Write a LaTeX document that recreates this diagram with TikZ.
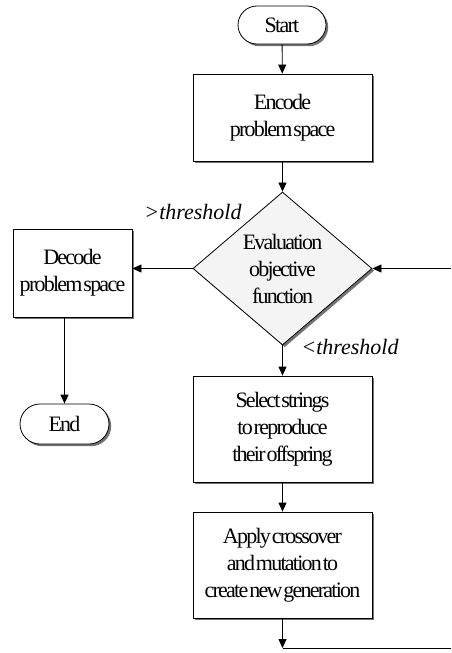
\documentclass[tikz,border=0pt]{standalone}
\usepackage{fontspec}
\setmainfont{Liberation Serif}[LetterSpace=-8,WordSpace=0.25]
\newfontfamily\lblfont{Liberation Serif}
\usetikzlibrary{shapes.geometric,shapes.misc,shadows,arrows.meta}
\definecolor{dfill}{HTML}{F4F4F4}
\begin{document}
\begin{tikzpicture}[x=1pt,y=-1pt,
  base/.style={draw=black,line width=0.8pt,fill=white,inner sep=0pt,align=center,
    font=\fontsize{22}{27}\selectfont,
    drop shadow={shadow xshift=2.2pt,shadow yshift=-2.2pt,fill=black!55,opacity=1}},
  procbox/.style={base,rectangle,minimum width=179pt},
  termbox/.style={base,rounded rectangle,minimum height=38pt},
  decbox/.style={base,diamond,fill=dfill,minimum width=179pt,minimum height=153pt},
  conn/.style={line width=0.8pt,-{Triangle[length=9pt,width=8pt]}},
  lbl/.style={font=\lblfont\itshape\fontsize{22}{24}\selectfont,inner sep=0pt}]
\useasboundingbox (0,0) rectangle (451,653);
\node[termbox,minimum width=88pt] (start) at (282,25) {Start};
\node[procbox,minimum height=87pt] (encode) at (282.5,117.5) {Encode\\problem space};
\node[decbox] (eval) at (282.5,268.5) {Evaluation\\objective\\function};
\node[procbox,minimum width=119pt,minimum height=88pt] (decode) at (72.5,273) {Decode\\problem space};
\node[termbox,minimum width=89pt,minimum height=40pt] (end) at (64.5,424) {End};
\node[procbox,minimum height=106pt] (select) at (282.5,429) {Select strings\\to reproduce\\their offspring};
\node[procbox,minimum height=106pt] (apply) at (282.5,565) {Apply crossover\\and mutation to\\create new generation};
\node[lbl] (gt) at (193,212) {>threshold};
\node[lbl] (lt) at (350,347) {<threshold};
\coordinate (bot) at (282.5,648);
\coordinate (botr) at (451,648);
\coordinate (rin) at (451,268.5);
\draw[conn] (start) -- (encode);
\draw[conn] (encode) -- (eval);
\draw[conn] (eval.west) -- (eval.west -| decode.east);
\draw[conn] (decode.south -| end.north) -- (end);
\draw[conn] (eval) -- (select);
\draw[conn] (select) -- (apply);
\draw[conn] (apply) -- (bot);
\draw[line width=0.8pt] (bot) -- (botr);
\draw[conn] (rin) -- (eval.east);
\end{tikzpicture}
\end{document}
